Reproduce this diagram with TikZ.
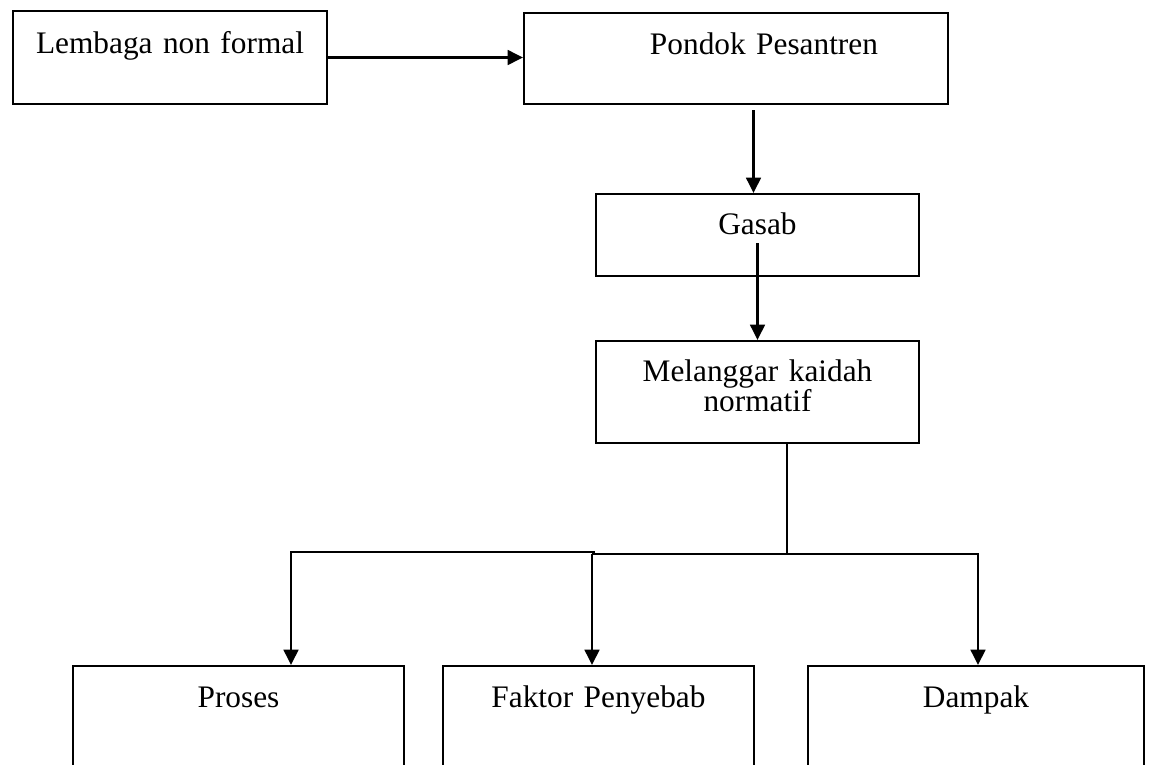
\documentclass[tikz,border=0pt]{standalone}
\usepackage{fontspec}
\setmainfont{Liberation Serif}
\usetikzlibrary{arrows.meta,calc}
\tikzset{
  box/.style={draw, line width=1.5pt, inner sep=0pt, align=center, anchor=north west,
    font=\fontsize{23.5}{22.5}\selectfont},
  arr/.style={line width=1.9pt, -{Triangle[length=11.5pt,width=11pt]}},
  conn/.style={line width=1.9pt},
}
\begin{document}
\begin{tikzpicture}[x=0.75pt,y=-0.75pt]
\useasboundingbox (0,0) rectangle (1149,764);
\clip (0,0) rectangle (1149,764);
% boxes
\node[box, text width=235.5pt, text height=31.5pt, text depth=38.25pt] (lem) at (12,10) {Lembaga non formal};
\node[box, text width=318pt, text height=30.75pt, text depth=37.5pt] (pon) at (523,12) {\hspace*{42pt}Pondok Pesantren};
\node[box, text width=242.25pt, text height=30pt, text depth=31.5pt] (gas) at (595,193) {Gasab};
\node[box, text width=242.25pt, text height=30pt, text depth=46.5pt] (mel) at (595,340) {Melanggar kaidah\\normatif};
\node[box, text width=248.25pt, text height=30.75pt, text depth=60pt] (pro) at (72,665) {Proses};
\node[box, text width=233.25pt, text height=30.75pt, text depth=60pt] (fak) at (442,665) {Faktor Penyebab};
\node[box, text width=252pt, text height=30.75pt, text depth=60pt] (dam) at (807,665) {Dampak};
% connectors
\draw[arr] (lem.east) -- (lem.east -| pon.west);
\draw[arr] ($(pon.south -| gas.north)+(-4,5)$) -- ($(gas.north)+(-4,0)$);
\draw[arr] ($(gas.center)+(0,8)$) -- (mel.north);
\coordinate (j) at (787,554);
\coordinate (jr) at (978,554);
\coordinate (jm) at (592,554);
\coordinate (jl) at (291,552);
\coordinate (jm2) at (595,552);
\draw[conn] (j |- mel.south) -- (j);
\draw[arr] (jm) -- (jr) -- (jr |- dam.north);
\draw[arr] (jm2) -- (jl) -- (jl |- pro.north);
\draw[arr] (jm) -- (jm |- fak.north);
\end{tikzpicture}
\end{document}
